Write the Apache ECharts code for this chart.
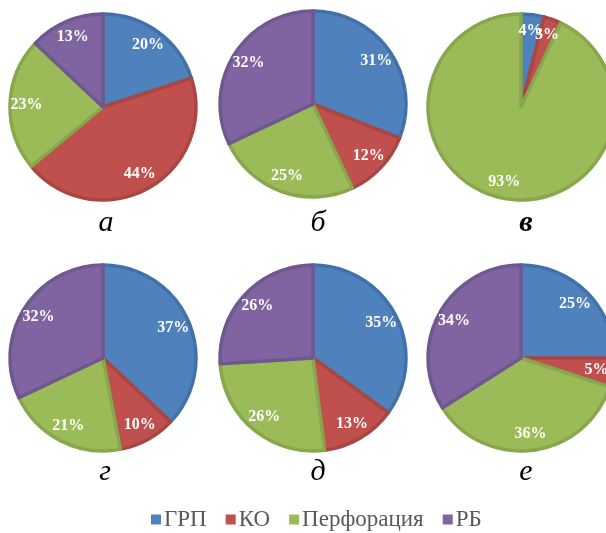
<!DOCTYPE html>
<html>
<head>
<meta charset="utf-8">
<script src="https://cdn.jsdelivr.net/npm/echarts@6/dist/echarts.min.js"></script>
<style>
html,body{margin:0;padding:0;background:#fff;}
#chart{width:606px;height:533px;}
</style>
</head>
<body>
<div id="chart"></div>
<script>
const categories = ['ГРП', 'КО', 'Перфорация', 'РБ'];
const panelLabels = ['а', 'б', 'в', 'г', 'д', 'е'];
const valuesA = [20, 44, 23, 13];
const valuesB = [31, 12, 25, 32];
const valuesV = [4, 3, 93, 0];
const valuesG = [37, 10, 21, 32];
const valuesD = [35, 13, 26, 26];
const valuesE = [25, 5, 36, 34];
const panels = [valuesA, valuesB, valuesV, valuesG, valuesD, valuesE];

const fillColors = ['#4F81BD', '#C0504D', '#9BBB59', '#8064A2'];
const edgeColors = ['#4271AA', '#AA4542', '#88A64C', '#6F578F'];

const centers = [[103, 107], [313, 104], [521, 107], [103, 358], [313, 358], [521, 358]];
const captionPos = [[101, 203], [313, 203], [521, 203], [100, 452], [313, 452], [521, 452]];
const R = 93;

const series = [];
panels.forEach((vals, p) => {
  const data = [];
  vals.forEach((v, i) => {
    if (v > 0) data.push({
      name: categories[i], value: v,
      itemStyle: { color: fillColors[i], borderColor: edgeColors[i], borderWidth: 3.5 }
    });
  });
  series.push({
    type: 'pie', center: centers[p], radius: [0, R], startAngle: 90, clockwise: true,
    silent: true, animation: false, label: { show: false }, labelLine: { show: false },
    data: data
  });
  series.push({
    type: 'pie', center: centers[p], radius: [R * 0.58, R], startAngle: 90, clockwise: true,
    silent: true, animation: false, z: 5, avoidLabelOverlap: false,
    labelLayout: { hideOverlap: false },
    itemStyle: { color: 'rgba(0,0,0,0)', borderWidth: 0 },
    label: {
      show: true, position: 'inside', formatter: '{c}%',
      color: '#fff', fontFamily: 'Liberation Serif', fontWeight: 'bold', fontSize: 16
    },
    labelLine: { show: false },
    data: data.map(d => ({ name: d.name, value: d.value, itemStyle: { color: 'rgba(0,0,0,0)', borderWidth: 0 } }))
  });
});

const titles = panelLabels.map((t, p) => ({
  text: t, left: captionPos[p][0], top: captionPos[p][1], textAlign: 'center',
  textStyle: { fontFamily: 'Liberation Serif', fontStyle: 'italic', fontWeight: p === 2 ? 'bold' : 'normal', fontSize: 30, color: '#000' }
}));

const chart = echarts.init(document.getElementById('chart'), null, { renderer: 'canvas' });
chart.setOption({
  backgroundColor: '#fff',
  animation: false,
  title: titles,
  legend: {
    top: 508, left: 151, itemWidth: 10, itemHeight: 10, itemGap: 19,
    icon: 'rect', padding: 0,
    data: categories.map((c, i) => ({ name: c, itemStyle: { color: fillColors[i], borderWidth: 0 } })),
    textStyle: { fontFamily: 'Liberation Serif', fontSize: 23, color: '#595959', padding: [0, 0, 0, -2] }
  },
  series: series
});
</script>
</body>
</html>
